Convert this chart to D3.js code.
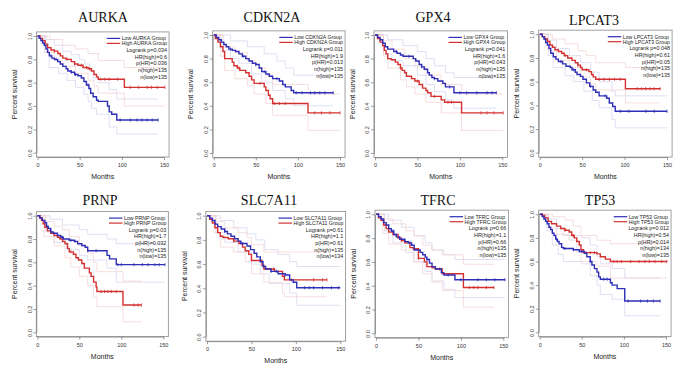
<!DOCTYPE html>
<html>
<head>
<meta charset="utf-8">
<script src="https://cdn.jsdelivr.net/npm/d3@7"></script>
<style>
body { margin: 0; background: #fff; }
svg { display: block; }
</style>
</head>
<body>
<svg id="chart"></svg>
<script>
// ---- data ----
var genes = ['AURKA', 'CDKN2A', 'GPX4', 'LPCAT3', 'PRNP', 'SLC7A11', 'TFRC', 'TP53'];
var logrankP = ['0.034', '0.011', '0.041', '0.048', '0.03', '0.61', '0.66', '0.012'];
var hrHigh = ['0.6', '1.9', '1.6', '0.61', '1.7', '1.1', '1.1', '0.54'];
var pHR = ['0.036', '0.013', '0.043', '0.05', '0.032', '0.61', '0.66', '0.014'];
var nHigh = ['135', '135', '135', '135', '135', '135', '135', '134'];
var nLow = ['135', '135', '135', '135', '135', '134', '135', '135'];
var xTicks = [0, 50, 100, 150];
var yTicks = [0, 0.2, 0.4, 0.6, 0.8, 1.0];

// Kaplan-Meier steps [month, survival], low expression group
var lowSteps = [
  [[0,1],[2,0.98],[4,0.96],[6,0.94],[8,0.92],[10,0.89],[12,0.86],[14,0.83],[17,0.81],[20,0.80],[24,0.78],[27,0.76],[30,0.74],[34,0.72],[36,0.70],[40,0.69],[44,0.67],[48,0.66],[52,0.64],[55,0.61],[58,0.58],[61,0.55],[63,0.51],[66,0.48],[70,0.45],[72,0.44],[83,0.40],[85,0.35],[88,0.33],[94,0.28]],
  [[0,1],[3,0.98],[6,0.96],[9,0.94],[12,0.92],[15,0.90],[18,0.88],[22,0.87],[26,0.86],[30,0.84],[34,0.82],[38,0.80],[42,0.78],[46,0.76],[50,0.75],[54,0.72],[57,0.69],[62,0.67],[66,0.65],[70,0.63],[78,0.61],[82,0.58],[85,0.56],[92,0.53],[95,0.51]],
  [[0,1],[3,0.98],[6,0.96],[9,0.93],[12,0.90],[15,0.88],[22,0.86],[26,0.845],[30,0.83],[33,0.82],[45,0.80],[48,0.78],[52,0.75],[55,0.73],[58,0.71],[62,0.68],[64,0.66],[67,0.64],[70,0.63],[74,0.61],[80,0.59],[83,0.56],[93,0.51]],
  [[0,1],[3,0.98],[5,0.96],[7,0.93],[9,0.91],[11,0.88],[13,0.84],[16,0.81],[19,0.79],[22,0.77],[27,0.75],[31,0.73],[36,0.72],[38,0.70],[42,0.68],[44,0.66],[48,0.645],[51,0.62],[55,0.59],[59,0.56],[63,0.53],[66,0.51],[70,0.48],[79,0.46],[82,0.42],[86,0.39],[89,0.35]],
  [[0,1],[3,0.98],[6,0.96],[9,0.94],[11,0.91],[13,0.89],[16,0.86],[19,0.85],[24,0.83],[28,0.815],[31,0.80],[38,0.79],[44,0.78],[48,0.76],[53,0.745],[57,0.73],[60,0.70],[83,0.66],[86,0.63],[94,0.58]],
  [[0,1],[3,0.98],[6,0.96],[9,0.93],[12,0.91],[16,0.89],[20,0.87],[23,0.85],[27,0.83],[31,0.81],[35,0.79],[38,0.77],[45,0.75],[49,0.72],[53,0.69],[56,0.66],[60,0.62],[63,0.58],[66,0.56],[72,0.54],[80,0.52],[88,0.51],[93,0.47],[97,0.45],[101,0.405]],
  [[0,1],[3,0.98],[6,0.96],[9,0.93],[12,0.91],[15,0.88],[18,0.86],[21,0.83],[24,0.81],[28,0.79],[34,0.77],[38,0.76],[42,0.74],[45,0.70],[52,0.68],[55,0.66],[58,0.64],[60,0.62],[63,0.59],[66,0.56],[70,0.54],[77,0.51],[80,0.49],[93,0.45]],
  [[0,1],[3,0.98],[5,0.96],[7,0.94],[9,0.92],[11,0.89],[13,0.87],[15,0.84],[17,0.82],[19,0.79],[21,0.77],[23,0.75],[26,0.72],[28,0.71],[40,0.70],[47,0.685],[53,0.67],[56,0.64],[60,0.60],[62,0.57],[65,0.54],[68,0.51],[70,0.47],[72,0.45],[84,0.42],[86,0.40],[92,0.37],[101,0.265]]
];
var lowEnd = [143, 142, 143, 150, 152, 150, 152, 143];

// Kaplan-Meier steps [month, survival], high expression group
var highSteps = [
  [[0,1],[3,0.98],[6,0.96],[9,0.93],[12,0.90],[16,0.88],[20,0.87],[24,0.85],[27,0.83],[30,0.81],[34,0.80],[40,0.78],[44,0.76],[48,0.75],[54,0.73],[60,0.72],[64,0.70],[67,0.67],[70,0.65],[72,0.63],[103,0.56]],
  [[0,1],[2,0.97],[5,0.94],[8,0.90],[11,0.86],[13,0.80],[22,0.77],[24,0.74],[28,0.72],[31,0.70],[38,0.68],[42,0.65],[45,0.62],[48,0.59],[60,0.56],[62,0.53],[65,0.49],[67,0.46],[70,0.42],[112,0.34]],
  [[0,1],[3,0.97],[6,0.94],[9,0.91],[11,0.87],[13,0.84],[15,0.80],[19,0.79],[24,0.77],[27,0.75],[30,0.72],[32,0.70],[35,0.68],[37,0.65],[43,0.63],[47,0.61],[52,0.58],[56,0.55],[60,0.53],[62,0.51],[66,0.48],[78,0.45],[82,0.43],[102,0.34]],
  [[0,1],[3,0.98],[6,0.96],[9,0.94],[12,0.91],[15,0.89],[18,0.87],[22,0.855],[26,0.84],[29,0.82],[33,0.80],[38,0.78],[42,0.76],[45,0.74],[48,0.72],[50,0.70],[58,0.685],[61,0.66],[63,0.64],[66,0.62],[101,0.54]],
  [[0,1],[3,0.98],[5,0.96],[7,0.93],[9,0.90],[12,0.87],[16,0.85],[20,0.83],[24,0.815],[27,0.80],[30,0.78],[33,0.76],[36,0.72],[38,0.69],[43,0.67],[46,0.64],[49,0.62],[53,0.59],[56,0.55],[62,0.51],[64,0.48],[67,0.43],[70,0.39],[71,0.35],[102,0.234]],
  [[0,1],[3,0.97],[6,0.94],[9,0.90],[12,0.86],[15,0.83],[18,0.82],[24,0.81],[30,0.79],[36,0.77],[40,0.74],[43,0.71],[47,0.68],[50,0.63],[62,0.59],[64,0.56],[76,0.54],[85,0.50],[87,0.47]],
  [[0,1],[3,0.97],[6,0.95],[9,0.91],[12,0.88],[15,0.85],[20,0.83],[26,0.80],[30,0.78],[34,0.76],[40,0.72],[44,0.71],[50,0.63],[57,0.60],[60,0.56],[66,0.55],[70,0.54],[78,0.50],[103,0.385]],
  [[0,1],[3,0.99],[6,0.97],[10,0.94],[14,0.92],[20,0.90],[25,0.88],[30,0.865],[35,0.85],[38,0.82],[41,0.80],[44,0.77],[47,0.74],[49,0.70],[52,0.675],[68,0.665],[72,0.64],[78,0.62],[84,0.60]]
];
var highEnd = [151, 150, 151, 142, 124, 135, 139, 151];

// censored observations (months)
var lowCensor = [
  [16, 22, 40, 45, 60, 98, 110, 118, 124, 130, 136, 143],
  [20, 35, 50, 60, 75, 98, 105, 115, 120, 126, 132, 142],
  [25, 40, 55, 70, 88, 100, 108, 120, 132, 138, 143],
  [25, 40, 60, 77, 95, 105, 125, 135, 150],
  [30, 40, 45, 60, 70, 96, 100, 115, 125, 132, 140, 145, 152],
  [20, 40, 72, 78, 88, 110, 115, 120, 130, 140, 148],
  [20, 40, 60, 85, 100, 120, 130, 140, 152],
  [20, 30, 40, 50, 60, 76, 80, 105, 120, 128, 135, 143]
];
var highCensor = [
  [20, 35, 44, 52, 58, 62, 75, 80, 85, 95, 110, 120, 130, 135, 142, 151],
  [30, 55, 72, 78, 85, 120, 128, 138, 150],
  [30, 50, 70, 86, 90, 125, 132, 140, 151],
  [30, 45, 55, 70, 76, 82, 88, 95, 115, 120, 125, 130, 135, 142],
  [40, 76, 80, 84, 88, 94, 115, 120, 124],
  [30, 60, 75, 95, 120, 130, 135],
  [30, 50, 75, 110, 115, 120, 130, 139],
  [30, 40, 55, 60, 65, 88, 92, 97, 108, 118, 125, 130, 137, 145, 151]
];

// 95% confidence bands (steps)
var lowUpper = [
  [[0,1],[10,0.97],[20,0.92],[30,0.87],[40,0.84],[50,0.80],[56,0.76],[62,0.70],[66,0.64],[72,0.60],[85,0.54],[94,0.46]],
  [[0,1],[20,0.95],[40,0.90],[60,0.84],[75,0.78],[85,0.72],[95,0.66]],
  [[0,1],[15,0.96],[33,0.91],[50,0.86],[60,0.80],[70,0.74],[83,0.68],[93,0.64]],
  [[0,1],[10,0.95],[20,0.88],[35,0.82],[48,0.76],[60,0.68],[70,0.60],[85,0.52],[89,0.48]],
  [[0,1],[15,0.97],[30,0.92],[50,0.88],[60,0.84],[83,0.80],[94,0.76]],
  [[0,1],[15,0.96],[30,0.90],[45,0.85],[55,0.80],[65,0.72],[80,0.68],[93,0.62],[101,0.58]],
  [[0,1],[15,0.95],[30,0.89],[45,0.82],[58,0.76],[66,0.70],[80,0.66],[93,0.62]],
  [[0,1],[10,0.96],[20,0.88],[28,0.82],[50,0.80],[60,0.74],[68,0.64],[72,0.58],[86,0.54],[101,0.46]]
];
var lowLower = [
  [[0,1],[8,0.86],[14,0.73],[25,0.68],[35,0.62],[45,0.56],[55,0.50],[60,0.44],[64,0.38],[70,0.33],[85,0.22],[94,0.16]],
  [[0,1],[10,0.87],[20,0.80],[30,0.76],[45,0.67],[57,0.60],[70,0.53],[85,0.46],[95,0.40]],
  [[0,1],[10,0.84],[20,0.78],[33,0.74],[50,0.66],[60,0.58],[70,0.52],[83,0.45],[93,0.38]],
  [[0,1],[10,0.82],[16,0.72],[30,0.65],[40,0.60],[52,0.52],[62,0.44],[70,0.38],[85,0.28],[89,0.21]],
  [[0,1],[10,0.86],[20,0.77],[35,0.71],[50,0.66],[60,0.62],[83,0.55],[94,0.43]],
  [[0,1],[10,0.86],[20,0.78],[35,0.70],[50,0.60],[60,0.52],[70,0.44],[93,0.36],[101,0.26]],
  [[0,1],[10,0.86],[20,0.76],[35,0.68],[45,0.60],[58,0.52],[66,0.44],[80,0.37],[93,0.30]],
  [[0,1],[8,0.86],[15,0.74],[22,0.66],[28,0.60],[50,0.58],[60,0.48],[68,0.40],[72,0.32],[86,0.28],[101,0.14]]
];
var highUpper = [
  [[0,1],[15,0.97],[30,0.92],[45,0.89],[60,0.85],[72,0.79],[103,0.73]],
  [[0,1],[12,0.90],[25,0.85],[40,0.78],[50,0.72],[62,0.66],[70,0.58],[112,0.50]],
  [[0,1],[10,0.95],[20,0.88],[35,0.80],[47,0.73],[60,0.66],[78,0.58],[102,0.50]],
  [[0,1],[15,0.96],[30,0.92],[45,0.86],[55,0.82],[66,0.76],[101,0.72]],
  [[0,1],[10,0.95],[20,0.91],[30,0.88],[38,0.82],[50,0.74],[60,0.68],[67,0.60],[71,0.52],[102,0.44]],
  [[0,1],[10,0.95],[20,0.90],[35,0.86],[45,0.82],[50,0.76],[64,0.70]],
  [[0,1],[10,0.96],[20,0.92],[35,0.86],[45,0.82],[55,0.74],[66,0.70],[78,0.66],[103,0.58]],
  [[0,1],[15,0.98],[30,0.95],[40,0.90],[49,0.82],[68,0.78],[84,0.75]]
];
var highLower = [
  [[0,1],[10,0.86],[20,0.79],[30,0.74],[45,0.68],[60,0.62],[67,0.57],[72,0.51],[103,0.40]],
  [[0,1],[8,0.82],[13,0.70],[25,0.63],[40,0.57],[48,0.50],[62,0.42],[70,0.32],[112,0.19]],
  [[0,1],[10,0.82],[15,0.72],[30,0.62],[37,0.56],[47,0.50],[60,0.43],[78,0.34],[102,0.19]],
  [[0,1],[10,0.86],[20,0.78],[35,0.72],[48,0.64],[60,0.58],[66,0.53],[101,0.42]],
  [[0,1],[8,0.82],[20,0.74],[33,0.64],[40,0.56],[50,0.48],[60,0.40],[67,0.30],[71,0.22],[102,0.09]],
  [[0,1],[8,0.86],[15,0.74],[30,0.70],[43,0.62],[50,0.52],[64,0.45],[85,0.36],[87,0.33]],
  [[0,1],[8,0.84],[15,0.75],[30,0.70],[44,0.60],[55,0.50],[66,0.43],[78,0.36],[103,0.22]],
  [[0,1],[10,0.88],[20,0.83],[35,0.78],[44,0.68],[49,0.60],[68,0.56],[84,0.46]]
];

// ---- layout of the 8 panels (pixel of month 0 / 150, survival 1 / 0, title) ----
var layout = [
  {x0: 37.5, x150: 164, y1: 36, y0: 152.7, tx: 103, ty: 22},
  {x0: 213.7, x150: 340, y1: 35, y0: 153, tx: 272, ty: 22},
  {x0: 375, x150: 502.3, y1: 35, y0: 153, tx: 433, ty: 22},
  {x0: 539.7, x150: 667, y1: 34.3, y0: 152.7, tx: 594, ty: 25},
  {x0: 37.3, x150: 163.3, y1: 215.7, y0: 332.3, tx: 100, ty: 205},
  {x0: 207, x150: 340.3, y1: 215.7, y0: 336.7, tx: 269, ty: 205},
  {x0: 376, x150: 503.3, y1: 214.3, y0: 333.3, tx: 438, ty: 205},
  {x0: 539.7, x150: 666, y1: 214.3, y0: 332.3, tx: 600, ty: 205}
];

var width = 692, height = 367;
var blue = '#2e2eb8', red = '#d43030';
var blueCI = '#d3d3ef', redCI = '#f3d0d0';
var sans = 'Liberation Sans, Arial, sans-serif';

var svg = d3.select('#chart')
    .attr('width', width)
    .attr('height', height);

svg.append('rect')
    .attr('width', width)
    .attr('height', height)
    .attr('fill', '#fff');

genes.forEach(function (gene, i) {
    var L = layout[i];
    var x = d3.scaleLinear().domain([0, 150]).range([L.x0, L.x150]);
    var y = d3.scaleLinear().domain([0, 1]).range([L.y0, L.y1]);
    var g = svg.append('g');

    var left = x(-1.2), right = x(156), top = y(1.035), bottom = y(-0.037);

    //Plot frame
    g.append('rect')
        .attr('x', left)
        .attr('y', top)
        .attr('width', right - left)
        .attr('height', bottom - top)
        .attr('fill', 'none')
        .attr('stroke', '#8a8a8a')
        .attr('stroke-width', 0.8);

    //Axes
    var xAxis = d3.axisBottom(x).tickValues(xTicks).tickSize(3).tickSizeOuter(0).tickPadding(3);
    var gx = g.append('g')
        .attr('transform', 'translate(0,' + bottom + ')')
        .call(xAxis);
    gx.selectAll('text')
        .style('font-family', sans)
        .style('font-size', '5.5px')
        .style('fill', '#333');

    var yAxis = d3.axisLeft(y).tickValues(yTicks).tickSize(3).tickSizeOuter(0).tickFormat(d3.format('.1f'));
    var gy = g.append('g')
        .attr('transform', 'translate(' + left + ',0)')
        .call(yAxis);
    gy.selectAll('text')
        .attr('transform', 'rotate(-90)')
        .attr('x', 0)
        .attr('y', -4.5)
        .attr('dy', 0)
        .style('text-anchor', 'middle')
        .style('font-family', sans)
        .style('font-size', '5.5px')
        .style('fill', '#333');

    g.selectAll('.domain, .tick line')
        .attr('stroke', '#777')
        .attr('stroke-width', 0.7);

    //Labels
    g.append('text')
        .attr('transform', 'translate(' + (L.x0 - 20.5) + ',' + ((L.y0 + L.y1) / 2) + ') rotate(-90)')
        .style('text-anchor', 'middle')
        .style('font-family', sans)
        .style('font-size', '7px')
        .style('fill', '#222')
        .text('Percent survival');

    g.append('text')
        .attr('x', (left + right) / 2)
        .attr('y', bottom + 22)
        .style('text-anchor', 'middle')
        .style('font-family', sans)
        .style('font-size', '7px')
        .style('fill', '#222')
        .text('Months');

    g.append('text')
        .attr('x', L.tx)
        .attr('y', L.ty)
        .style('text-anchor', 'middle')
        .style('font-family', 'Liberation Serif, Times New Roman, serif')
        .style('font-size', '14px')
        .style('fill', '#111')
        .text(gene);

    //Curves
    var line = d3.line()
        .curve(d3.curveStepAfter)
        .x(function (d) { return x(d[0]); })
        .y(function (d) { return y(d[1]); });

    function withEnd(steps, end) {
        return steps.concat([[end, steps[steps.length - 1][1]]]);
    }

    function survAt(steps, t) {
        var s = 1;
        steps.forEach(function (d) { if (d[0] <= t) s = d[1]; });
        return s;
    }

    [[lowUpper[i], lowEnd[i], blueCI], [lowLower[i], lowEnd[i], blueCI],
     [highUpper[i], highEnd[i], redCI], [highLower[i], highEnd[i], redCI]].forEach(function (c) {
        g.append('path')
            .attr('d', line(withEnd(c[0], c[1])))
            .attr('fill', 'none')
            .attr('stroke', c[2])
            .attr('stroke-width', 0.7);
    });

    [[highSteps[i], highEnd[i], highCensor[i], red], [lowSteps[i], lowEnd[i], lowCensor[i], blue]].forEach(function (c) {
        g.append('path')
            .attr('d', line(withEnd(c[0], c[1])))
            .attr('fill', 'none')
            .attr('stroke', c[3])
            .attr('stroke-width', 1.4);

        g.selectAll(null)
            .data(c[2])
            .enter().append('line')
            .attr('x1', function (t) { return x(t); })
            .attr('x2', function (t) { return x(t); })
            .attr('y1', function (t) { return y(survAt(c[0], t)) - 1.6; })
            .attr('y2', function (t) { return y(survAt(c[0], t)) + 1.6; })
            .attr('stroke', c[3])
            .attr('stroke-width', 0.8);
    });

    //Legend
    var legRight = x(150) + 3;
    var leg = g.append('g');
    var labels = ['Low ' + gene + ' Group', 'High ' + gene + ' Group'];
    var texts = leg.selectAll('text.leg')
        .data(labels)
        .enter().append('text')
        .attr('class', 'leg')
        .attr('y', function (d, k) { return L.y1 + 4.2 + k * 5; })
        .style('font-family', sans)
        .style('font-size', '5.2px')
        .style('fill', '#222')
        .text(function (d) { return d; });
    var maxW = 0;
    texts.each(function () { maxW = Math.max(maxW, this.getComputedTextLength()); });
    var textX = legRight - maxW;
    texts.attr('x', textX);
    leg.selectAll('line')
        .data([blue, red])
        .enter().append('line')
        .attr('x1', textX - 15)
        .attr('x2', textX - 1.5)
        .attr('y1', function (d, k) { return L.y1 + 2.4 + k * 5; })
        .attr('y2', function (d, k) { return L.y1 + 2.4 + k * 5; })
        .attr('stroke', function (d) { return d; })
        .attr('stroke-width', 1.2);

    var stats = ['Logrank p=' + logrankP[i], 'HR(high)=' + hrHigh[i], 'p(HR)=' + pHR[i],
                 'n(high)=' + nHigh[i], 'n(low)=' + nLow[i]];
    leg.selectAll('text.stat')
        .data(stats)
        .enter().append('text')
        .attr('class', 'stat')
        .attr('x', legRight)
        .attr('y', function (d, k) { return L.y1 + 16 + k * 6.67; })
        .style('text-anchor', 'end')
        .style('font-family', sans)
        .style('font-size', '5.4px')
        .style('fill', '#222')
        .text(function (d) { return d; });
});
</script>
</body>
</html>
